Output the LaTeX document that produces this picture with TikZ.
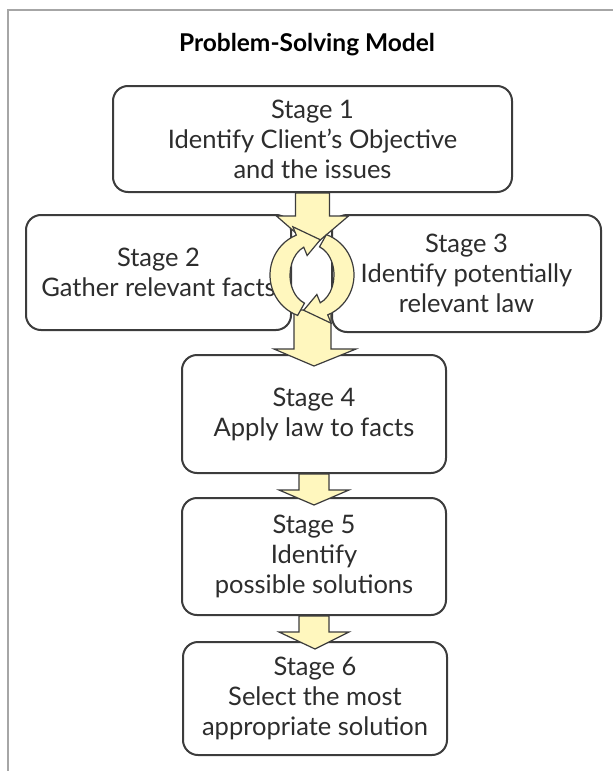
\documentclass[tikz,border=0pt]{standalone}
\usepackage{fontspec}
\setmainfont{Lato}
\usetikzlibrary{calc}
\definecolor{pale}{RGB}{255,247,190}
\definecolor{edge}{RGB}{60,60,60}
\definecolor{ink}{RGB}{45,45,45}

\begin{document}
\begin{tikzpicture}[x=1pt, y=-1pt,
    stage/.style={draw=edge, line width=2pt, rounded corners=15pt, fill=white, text=ink, align=center, inner sep=0pt, font=\fontsize{25.5}{30}\selectfont},
    blk/.style={draw=edge, line width=1.2pt, fill=pale},
    ring/.style={draw=edge, line width=1.2pt, fill=pale}
]
\useasboundingbox (0,0) rectangle (613,771);
\draw[gray!70, line width=1.5pt] (8,771) |- (613,10);
\node[font=\fontsize{24.5}{28}\selectfont\bfseries] (title) at (307,45) {Problem-Solving Model};

\node[stage, minimum width=399pt, minimum height=106pt] (s1) at (312.5,139) {Stage 1\\Identify Client’s Objective\\and the issues};
\node[stage, minimum width=265pt, minimum height=115pt] (s2) at (158.5,272.5) {Stage 2\\Gather relevant facts};
\node[stage, minimum width=269pt, minimum height=117pt] (s3) at (466.5,273.5) {Stage 3\\Identify potentially\\relevant law};
\node[stage, minimum width=264pt, minimum height=118pt] (s4) at (314,414) {Stage 4\\Apply law to facts};
\node[stage, minimum width=264pt, minimum height=117pt] (s5) at (314,556.5) {Stage 5\\Identify\\possible solutions};
\node[stage, minimum width=264pt, minimum height=113pt] (s6) at (315,698.5) {Stage 6\\Select the most\\appropriate solution};
\coordinate (cyc) at (312,275);

\draw[blk] ($(s1.south)+(-17,0)$) -- ($(s1.south)+(-17,23)$) -- ($(s1.south)+(-36,23)$) -- ($(cyc)+(0,-28)$)
    -- ($(s1.south)+(36,23)$) -- ($(s1.south)+(17,23)$) -- ($(s1.south)+(17,0)$) -- cycle;
\draw[blk] ($(cyc)+(-18,35)$) -- ($(s4.north)+(-20,-5)$) -- ($(s4.north)+(-40,-5)$) -- ($(s4.north)+(0,12)$)
    -- ($(s4.north)+(42,-5)$) -- ($(s4.north)+(17,-5)$) -- ($(cyc)+(19,35)$) -- cycle;
\foreach \a/\b in {s4/s5, s5/s6}
  \draw[blk] ($(\a.south)+(-15,0)$) -- ($(\a.south)+(-15,16)$) -- ($(\a.south)+(-35,16)$) -- ($(\b.north)+(0,8)$)
    -- ($(\a.south)+(35,16)$) -- ($(\a.south)+(15,16)$) -- ($(\a.south)+(15,0)$) -- cycle;

\begin{scope}[shift={(cyc)}, yscale=-1]
\path[ring] (250:42 and 43) arc[start angle=250, end angle=112, x radius=42, y radius=43] -- (112:51 and 52) -- (75:32 and 36.5)
    -- (112:13 and 21) -- (112:22 and 30) arc[start angle=112, end angle=250, x radius=22, y radius=30] -- cycle;
\path[ring] (70:42 and 43) arc[start angle=70, end angle=-68, x radius=42, y radius=43] -- (-68:51 and 52) -- (-105:32 and 36.5)
    -- (-68:13 and 21) -- (-68:22 and 30) arc[start angle=-68, end angle=70, x radius=22, y radius=30] -- cycle;
\end{scope}
\end{tikzpicture}
\end{document}
